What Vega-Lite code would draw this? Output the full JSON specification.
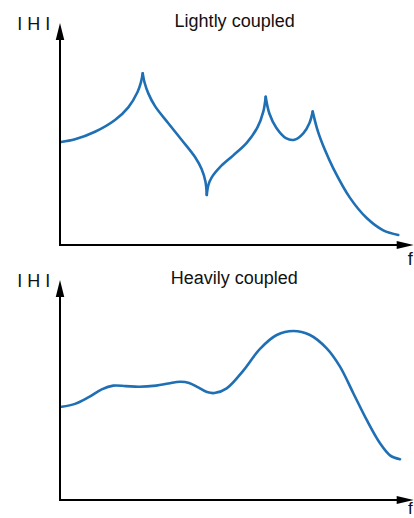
{
  "$schema": "https://vega.github.io/schema/vega-lite/v6.json",
  "padding": 0,
  "spacing": 0,
  "bounds": "flush",
  "config": {"view": {"stroke": null}, "text": {"font": "Liberation Sans", "fontSize": 18, "color": "#111111"}},
  "datasets": {
    "light": [
      {"f": 0.30, "H": 60.3, "seg": 1}, {"f": 4.45, "H": 61.9, "seg": 1}, {"f": 10.38, "H": 66.3, "seg": 1}, {"f": 16.31, "H": 73.2, "seg": 1}, {"f": 20.26, "H": 80.6, "seg": 1}, {"f": 23.0, "H": 89.6, "seg": 1}, {"f": 24.0, "H": 95.2, "seg": 1}, {"f": 24.53, "H": 100.5, "seg": 1},
      {"f": 24.53, "H": 100.5, "seg": 2}, {"f": 25.1, "H": 95.0, "seg": 2}, {"f": 26.19, "H": 88.8, "seg": 2}, {"f": 28.18, "H": 81.3, "seg": 2}, {"f": 32.12, "H": 71.3, "seg": 2}, {"f": 36.10, "H": 61.5, "seg": 2}, {"f": 40.05, "H": 51.5, "seg": 2}, {"f": 42.03, "H": 44.3, "seg": 2}, {"f": 43.15, "H": 37.0, "seg": 2}, {"f": 43.54, "H": 29.3, "seg": 2},
      {"f": 43.54, "H": 29.3, "seg": 3}, {"f": 44.0, "H": 35.0, "seg": 3}, {"f": 45.0, "H": 39.6, "seg": 3}, {"f": 47.46, "H": 45.6, "seg": 3}, {"f": 51.40, "H": 52.5, "seg": 3}, {"f": 55.38, "H": 59.8, "seg": 3}, {"f": 58.6, "H": 69.0, "seg": 3}, {"f": 60.30, "H": 78.1, "seg": 3}, {"f": 61.01, "H": 86.8, "seg": 3},
      {"f": 61.01, "H": 86.8, "seg": 4}, {"f": 62.1, "H": 77.0, "seg": 4}, {"f": 64.2, "H": 68.5, "seg": 4}, {"f": 67.0, "H": 62.6, "seg": 4}, {"f": 69.5, "H": 61.6, "seg": 4}, {"f": 72.16, "H": 65.4, "seg": 4}, {"f": 74.0, "H": 71.5, "seg": 4}, {"f": 74.95, "H": 78.1, "seg": 4},
      {"f": 74.95, "H": 78.1, "seg": 5}, {"f": 76.5, "H": 66.5, "seg": 5}, {"f": 78.5, "H": 56.0, "seg": 5}, {"f": 81.06, "H": 44.9, "seg": 5}, {"f": 86.02, "H": 27.6, "seg": 5}, {"f": 90.97, "H": 15.8, "seg": 5}, {"f": 95.89, "H": 8.6, "seg": 5}, {"f": 100.34, "H": 5.9, "seg": 5}
    ],
    "heavy": [
      {"f": 0.50, "H": 55.1}, {"f": 4.45, "H": 56.8}, {"f": 8.39, "H": 60.6}, {"f": 12.37, "H": 65.4}, {"f": 15.81, "H": 67.6}, {"f": 19.5, "H": 67.3}, {"f": 23.5, "H": 66.9}, {"f": 28.5, "H": 67.6}, {"f": 32.12, "H": 68.8}, {"f": 35.59, "H": 69.9}, {"f": 38.3, "H": 69.2}, {"f": 41.0, "H": 66.5}, {"f": 43.6, "H": 63.8}, {"f": 45.8, "H": 63.2}, {"f": 49.44, "H": 66.0}, {"f": 54.37, "H": 76.5}, {"f": 59.32, "H": 89.3}, {"f": 64.28, "H": 97.5}, {"f": 69.20, "H": 99.9}, {"f": 74.15, "H": 97.5}, {"f": 79.11, "H": 89.6}, {"f": 83.05, "H": 78.8}, {"f": 87.00, "H": 63.1}, {"f": 90.97, "H": 47.3}, {"f": 94.92, "H": 33.5}, {"f": 97.88, "H": 26.4}, {"f": 100.85, "H": 24.1}
    ]
  },
  "vconcat": [
    {
      "width": 414,
      "height": 259,
      "layer": [
        {
          "data": {"name": "light"},
          "mark": {"type": "line", "interpolate": "catmull-rom", "color": "#1f6fb5", "strokeWidth": 2.6, "strokeCap": "round", "strokeJoin": "round"},
          "encoding": {
            "x": {"field": "f", "type": "quantitative", "scale": {"domain": [-17.797, 105], "nice": false, "zero": false}, "axis": null},
            "y": {"field": "H", "type": "quantitative", "scale": {"domain": [-8.198, 143.47], "nice": false, "zero": false}, "axis": null},
            "detail": {"field": "seg"}
          }
        },
        {
          "data": {"values": [{}]},
          "mark": {"type": "rule", "color": "#000000", "strokeWidth": 2, "strokeCap": "square"},
          "encoding": {
            "x": {"datum": 0, "type": "quantitative", "scale": {"domain": [-17.797, 105], "nice": false, "zero": false}},
            "y": {"datum": 0, "type": "quantitative", "scale": {"domain": [-8.198, 143.47], "nice": false, "zero": false}},
            "y2": {"datum": 125.3}
          }
        },
        {
          "data": {"values": [{}]},
          "mark": {"type": "rule", "color": "#000000", "strokeWidth": 2, "strokeCap": "square"},
          "encoding": {
            "x": {"datum": 0, "type": "quantitative", "scale": {"domain": [-17.797, 105], "nice": false, "zero": false}},
            "x2": {"datum": 102.5},
            "y": {"datum": 0, "type": "quantitative", "scale": {"domain": [-8.198, 143.47], "nice": false, "zero": false}}
          }
        },
        {
          "data": {"values": [{}]},
          "mark": {"type": "point", "shape": "M0,0L0.25,1L-0.25,1Z", "size": 1156, "filled": true, "color": "#000000", "opacity": 1, "strokeWidth": 0},
          "encoding": {
            "x": {"datum": 0, "type": "quantitative", "scale": {"domain": [-17.797, 105], "nice": false, "zero": false}},
            "y": {"datum": 130, "type": "quantitative", "scale": {"domain": [-8.198, 143.47], "nice": false, "zero": false}}
          }
        },
        {
          "data": {"values": [{}]},
          "mark": {"type": "point", "shape": "M0,0L-1,-0.23L-1,0.23Z", "size": 1156, "filled": true, "color": "#000000", "opacity": 1, "strokeWidth": 0},
          "encoding": {
            "x": {"datum": 104.9, "type": "quantitative", "scale": {"domain": [-17.797, 105], "nice": false, "zero": false}},
            "y": {"datum": 0, "type": "quantitative", "scale": {"domain": [-8.198, 143.47], "nice": false, "zero": false}}
          }
        },
        {
          "data": {"values": [{}]},
          "mark": {"type": "text", "text": "Lightly coupled", "align": "center", "baseline": "alphabetic"},
          "encoding": {
            "x": {"datum": 51.8, "type": "quantitative", "scale": {"domain": [-17.797, 105], "nice": false, "zero": false}},
            "y": {"datum": 127.8, "type": "quantitative", "scale": {"domain": [-8.198, 143.47], "nice": false, "zero": false}}
          }
        },
        {
          "data": {"values": [{}]},
          "mark": {"type": "text", "text": "I H I", "align": "left", "baseline": "alphabetic"},
          "encoding": {
            "x": {"datum": -12.7, "type": "quantitative", "scale": {"domain": [-17.797, 105], "nice": false, "zero": false}},
            "y": {"datum": 126, "type": "quantitative", "scale": {"domain": [-8.198, 143.47], "nice": false, "zero": false}}
          }
        },
        {
          "data": {"values": [{}]},
          "mark": {"type": "text", "text": "f", "align": "center", "baseline": "alphabetic"},
          "encoding": {
            "x": {"datum": 103.9, "type": "quantitative", "scale": {"domain": [-17.797, 105], "nice": false, "zero": false}},
            "y": {"datum": -11.7, "type": "quantitative", "scale": {"domain": [-8.198, 143.47], "nice": false, "zero": false}}
          }
        }
      ]
    },
    {
      "width": 414,
      "height": 259,
      "layer": [
        {
          "data": {"name": "heavy"},
          "mark": {"type": "line", "interpolate": "catmull-rom", "color": "#1f6fb5", "strokeWidth": 2.6, "strokeCap": "round", "strokeJoin": "round"},
          "encoding": {
            "x": {"field": "f", "type": "quantitative", "scale": {"domain": [-17.797, 105], "nice": false, "zero": false}, "axis": null},
            "y": {"field": "H", "type": "quantitative", "scale": {"domain": [-10.636, 142.41], "nice": false, "zero": false}, "axis": null}
          }
        },
        {
          "data": {"values": [{}]},
          "mark": {"type": "rule", "color": "#000000", "strokeWidth": 2, "strokeCap": "square"},
          "encoding": {
            "x": {"datum": 0, "type": "quantitative", "scale": {"domain": [-17.797, 105], "nice": false, "zero": false}},
            "y": {"datum": 0, "type": "quantitative", "scale": {"domain": [-10.636, 142.41], "nice": false, "zero": false}},
            "y2": {"datum": 125.3}
          }
        },
        {
          "data": {"values": [{}]},
          "mark": {"type": "rule", "color": "#000000", "strokeWidth": 2, "strokeCap": "square"},
          "encoding": {
            "x": {"datum": 0, "type": "quantitative", "scale": {"domain": [-17.797, 105], "nice": false, "zero": false}},
            "x2": {"datum": 102.5},
            "y": {"datum": 0, "type": "quantitative", "scale": {"domain": [-10.636, 142.41], "nice": false, "zero": false}}
          }
        },
        {
          "data": {"values": [{}]},
          "mark": {"type": "point", "shape": "M0,0L0.25,1L-0.25,1Z", "size": 1156, "filled": true, "color": "#000000", "opacity": 1, "strokeWidth": 0},
          "encoding": {
            "x": {"datum": 0, "type": "quantitative", "scale": {"domain": [-17.797, 105], "nice": false, "zero": false}},
            "y": {"datum": 130, "type": "quantitative", "scale": {"domain": [-10.636, 142.41], "nice": false, "zero": false}}
          }
        },
        {
          "data": {"values": [{}]},
          "mark": {"type": "point", "shape": "M0,0L-1,-0.23L-1,0.23Z", "size": 1156, "filled": true, "color": "#000000", "opacity": 1, "strokeWidth": 0},
          "encoding": {
            "x": {"datum": 104.9, "type": "quantitative", "scale": {"domain": [-17.797, 105], "nice": false, "zero": false}},
            "y": {"datum": 0, "type": "quantitative", "scale": {"domain": [-10.636, 142.41], "nice": false, "zero": false}}
          }
        },
        {
          "data": {"values": [{}]},
          "mark": {"type": "text", "text": "Heavily coupled", "align": "center", "baseline": "alphabetic"},
          "encoding": {
            "x": {"datum": 51.7, "type": "quantitative", "scale": {"domain": [-17.797, 105], "nice": false, "zero": false}},
            "y": {"datum": 127.8, "type": "quantitative", "scale": {"domain": [-10.636, 142.41], "nice": false, "zero": false}}
          }
        },
        {
          "data": {"values": [{}]},
          "mark": {"type": "text", "text": "I H I", "align": "left", "baseline": "alphabetic"},
          "encoding": {
            "x": {"datum": -12.7, "type": "quantitative", "scale": {"domain": [-17.797, 105], "nice": false, "zero": false}},
            "y": {"datum": 126, "type": "quantitative", "scale": {"domain": [-10.636, 142.41], "nice": false, "zero": false}}
          }
        },
        {
          "data": {"values": [{}]},
          "mark": {"type": "text", "text": "f", "align": "center", "baseline": "alphabetic", "fontSize": 17},
          "encoding": {
            "x": {"datum": 103.9, "type": "quantitative", "scale": {"domain": [-17.797, 105], "nice": false, "zero": false}},
            "y": {"datum": -8.3, "type": "quantitative", "scale": {"domain": [-10.636, 142.41], "nice": false, "zero": false}}
          }
        }
      ]
    }
  ]
}
